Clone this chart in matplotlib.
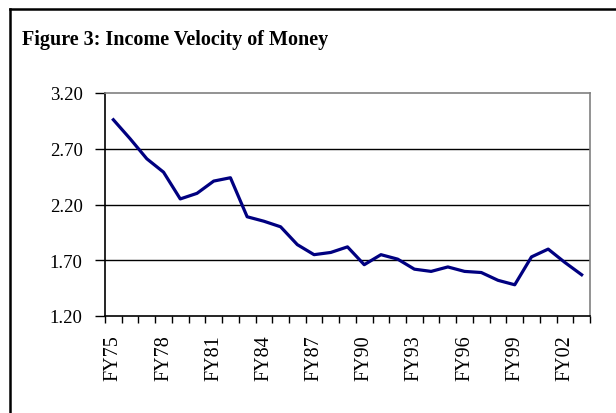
import matplotlib.pyplot as plt
from matplotlib.lines import Line2D

years = ['FY75', 'FY76', 'FY77', 'FY78', 'FY79', 'FY80', 'FY81', 'FY82', 'FY83',
         'FY84', 'FY85', 'FY86', 'FY87', 'FY88', 'FY89', 'FY90', 'FY91', 'FY92',
         'FY93', 'FY94', 'FY95', 'FY96', 'FY97', 'FY98', 'FY99', 'FY00', 'FY01',
         'FY02', 'FY03']
velocity = [2.96, 2.79, 2.61, 2.49, 2.25, 2.30, 2.41, 2.44, 2.09,
            2.05, 2.00, 1.84, 1.75, 1.77, 1.82, 1.66, 1.75, 1.71,
            1.62, 1.60, 1.64, 1.60, 1.59, 1.52, 1.48, 1.73, 1.80,
            1.68, 1.57]
y_ticks = [1.20, 1.70, 2.20, 2.70, 3.20]

plt.rcParams['font.family'] = ['Liberation Serif', 'DejaVu Serif']

W, H = 616, 414
fig = plt.figure(figsize=(W / 100, H / 100), dpi=100)
ax = fig.add_axes([105 / W, 1 - 317 / H, (590 - 105) / W, (317 - 94) / H])

n = len(years)
x = list(range(n))
ax.plot(x, velocity, color='#000080', lw=2.3, zorder=3)

ax.set_xlim(-0.5, n - 0.5)
ax.set_ylim(1.20, 3.20)
ax.set_yticks(y_ticks)
ax.set_yticklabels(['%.2f' % v for v in y_ticks], fontsize=13.5)
for v in y_ticks[1:-1]:
    ax.axhline(v, color='black', lw=1.0, zorder=1)

# category ticks sit between categories, labels every third year
ax.set_xticks([i - 0.5 for i in range(n + 1)])
ax.set_xticklabels([])
ax.set_xticks(x[::3], minor=True)
ax.set_xticklabels(years[::3], minor=True, rotation=90, fontsize=14.5)
ax.tick_params(axis='x', which='major', direction='out', length=5, width=1, color='black')
ax.tick_params(axis='x', which='minor', length=0, pad=13)
ax.tick_params(axis='y', direction='out', length=7, width=1, pad=9)

ax.spines['left'].set_color('black')
ax.spines['bottom'].set_color('black')
ax.spines['top'].set_color('#808080')
ax.spines['right'].set_color('#808080')
for s in ax.spines.values():
    s.set_linewidth(1.2)

fig.text(22 / W, 1 - 45 / H, 'Figure 3: Income Velocity of Money',
         fontsize=14.5, fontweight='bold', ha='left', va='baseline')

# outer frame (only top and left edges visible)
fig.add_artist(Line2D([10 / W, 10 / W], [0, 1 - 10 / H], transform=fig.transFigure,
                      color='black', lw=1.8))
fig.add_artist(Line2D([10 / W, 1], [1 - 10 / H, 1 - 10 / H], transform=fig.transFigure,
                      color='black', lw=1.8))

plt.savefig('out.png', dpi=100)
